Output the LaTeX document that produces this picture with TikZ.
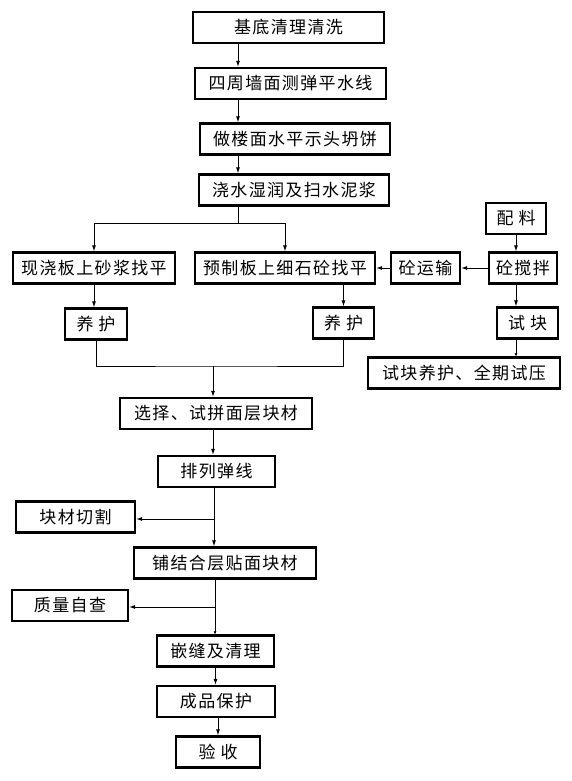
\documentclass[tikz,border=0pt]{standalone}
\usepackage{fontspec}
\newfontfamily\cjk[LetterSpace=8]{Noto Sans CJK SC}
\usetikzlibrary{arrows.meta}

\begin{document}
\begin{tikzpicture}[x=1pt, y=-1pt,
  box/.style={draw, line width=2.2pt, minimum height=31pt, inner sep=0pt,
    font=\cjk\fontsize{17}{17}\selectfont},
  arr/.style={-{Latex[length=6pt,width=4pt]}, line width=0.9pt},
  arrs/.style={-{Latex[length=3pt,width=3pt]}, line width=0.9pt}]
\useasboundingbox (0,0) rectangle (571,781);

\node[box, minimum width=191pt] (jd) at (288.5,27.5) {基底清理清洗};
\node[box, minimum width=191pt] (sz) at (290.5,83.5) {四周墙面测弹平水线};
\node[box, minimum width=190pt] (zl) at (295,139) {做楼面水平示头坍饼};
\node[box, minimum width=190pt] (js) at (294,190) {浇水湿润及扫水泥浆};

\node[box, minimum width=162pt] (xj) at (94,268) {现浇板上砂浆找平};
\node[box, minimum width=180pt] (yz) at (285,268) {预制板上细石砼找平};
\node[box, minimum width=69pt] (ys) at (425.5,268) {砼运输};
\node[box, minimum width=68pt] (jb) at (523,268) {砼搅拌};
\node[box, minimum width=60pt] (pl) at (516,218.5) {配\hspace{5pt}料};

\node[box, minimum width=62pt] (yh1) at (96,324) {养\hspace{5pt}护};
\node[box, minimum width=61pt] (yh2) at (343.5,323) {养\hspace{5pt}护};
\node[box, minimum width=61pt] (sk) at (527.5,323) {试\hspace{5pt}块};
\node[box, minimum width=192pt] (skyh) at (464,373) {试块养护、全期试压};

\node[box, minimum width=192pt] (xz) at (216,413.5) {选择、试拼面层块材};
\node[box, minimum width=117pt] (plt) at (216.5,471.5) {排列弹线};
\node[box, minimum width=119pt] (qg) at (75.5,517) {块材切割};
\node[box, minimum width=182pt] (pj) at (225,563) {铺结合层贴面块材};
\node[box, minimum width=116pt] (zc) at (70,605.5) {质量自查};
\node[box, minimum width=117pt] (qf) at (215.5,651) {嵌缝及清理};
\node[box, minimum width=118pt] (cp) at (216,701.5) {成品保护};
\node[box, minimum width=84pt] (ysh) at (218,752) {验\hspace{5pt}收};

\coordinate (c1) at (238,223);
\coordinate (c2) at (213,366);
\coordinate (c3) at (214,519);
\coordinate (c4) at (215,607);

\draw[arr] (jd.south -| c1) -- (sz.north -| c1);
\draw[arr] (sz.south -| c1) -- (zl.north -| c1);
\draw[arr] (zl.south -| c1) -- (js.north -| c1);
\draw (js.south -| c1) -- (c1);
\draw[arr] (c1) -| (xj.north);
\draw[arr] (c1) -| (yz.north);

\draw[arr] (pl.south) -- (pl.south |- jb.north);
\draw[arr] (jb) -- (ys);
\draw[arr] (ys) -- (yz);
\draw[arr] (jb.south -| pl.south) -- (sk.north -| pl.south);
\draw[arrs] (sk.south -| pl.south) -- (skyh.north -| pl.south);

\draw[arr] (xj.south) -- (xj.south |- yh1.north);
\draw[arr] (yz.south -| yh2) -- (yh2.north);
\draw (yh1.south) |- (c2) -| (yh2.south);
\draw[arr] (c2) -- (c2 |- xz.north);

\draw[arr] (xz.south -| c2) -- (plt.north -| c2);
\draw[arr] (plt.south -| c3) -- (pj.north -| c3);
\draw[arr] (c3) -- (c3 -| qg.east);
\draw[arrs] (pj.south -| c4) -- (qf.north -| c4);
\draw[arr] (c4) -- (c4 -| zc.east);
\draw[arr] (qf.south) -- (qf.south |- cp.north);
\draw[arr] (cp.south -| ysh) -- (ysh.north);
\end{tikzpicture}
\end{document}
